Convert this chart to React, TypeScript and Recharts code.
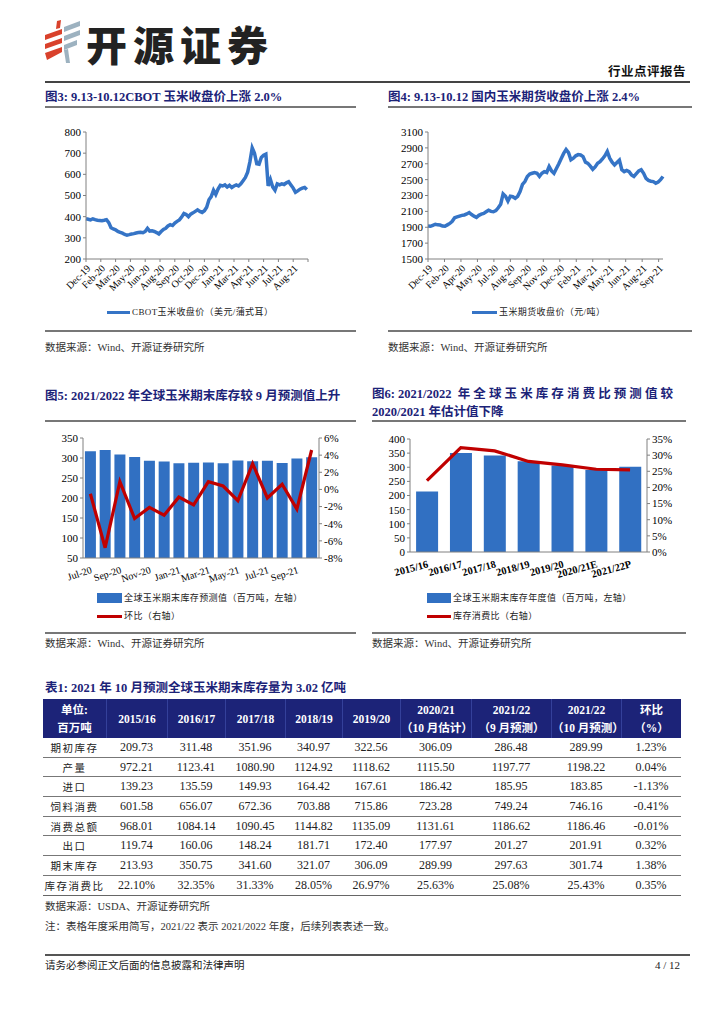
import React from 'react';
import { LineChart, Line, XAxis, YAxis, Bar, ComposedChart } from 'recharts';

const FONT = '"Liberation Serif", "Times New Roman", "Noto Sans CJK SC", serif';
const NAVY = '#1c2378';
const BLUE = '#3574c6';
const BAR = '#3170c2';
const RED = '#c00000';

// ---- Figure 3: CBOT corn close (weekly readings) ----
const cbotValues = [
  390, 388, 385, 390, 386, 383, 382, 381, 383, 386, 372, 348, 342, 338, 330, 326, 322, 316, 313, 315,
  318, 320, 323, 325, 326, 324, 330, 345, 332, 333, 330, 325, 318, 330, 340, 345, 356, 362, 358, 370,
  378, 385, 398, 415, 410, 400, 412, 418, 425, 432, 425, 420, 428, 445, 480, 495, 525, 505, 530, 548,
  545, 550, 540, 548, 538, 545, 550, 545, 555, 570, 585, 610, 660, 725, 700, 650, 648, 680, 690, 695,
  545, 575, 540, 525, 555, 550, 555, 552, 560, 565, 550, 535, 515, 522, 530, 535, 538, 528,
];
const cbotLabels = ['Dec-19', 'Feb-20', 'Mar-20', 'May-20', 'Jun-20', 'Aug-20', 'Sep-20', 'Oct-20', 'Dec-20', 'Jan-21', 'Mar-21', 'Apr-21', 'Jun-21', 'Jul-21', 'Aug-21', ''];
const cbotYTicks = [200, 300, 400, 500, 600, 700, 800];

// ---- Figure 4: DCE corn futures close (weekly readings) ----
const dceValues = [
  1915, 1912, 1925, 1938, 1930, 1928, 1915, 1912, 1930, 1948, 1975, 2020, 2030, 2040, 2050, 2055, 2068, 2085, 2060, 2040,
  2025, 2050, 2065, 2075, 2095, 2115, 2100, 2095, 2110, 2145, 2190, 2320, 2290, 2230, 2290, 2285, 2265, 2290, 2350, 2440,
  2475, 2540, 2570, 2580, 2590, 2580, 2540, 2580, 2600, 2590, 2665, 2610, 2580, 2640, 2700, 2766, 2830, 2878, 2840, 2750,
  2770, 2800, 2815, 2810, 2790, 2720, 2705, 2670, 2630, 2660, 2705, 2725, 2760, 2800, 2855, 2770, 2720, 2685, 2715, 2745,
  2625, 2600, 2615, 2600, 2560, 2540, 2575, 2610, 2625, 2580, 2515, 2490, 2480, 2475, 2455, 2470, 2500, 2540,
];
const dceLabels = ['Dec-19', 'Feb-20', 'Apr-20', 'May-20', 'Jul-20', 'Aug-20', 'Sep-20', 'Nov-20', 'Dec-20', 'Feb-21', 'Mar-21', 'May-21', 'Jun-21', 'Aug-21', 'Sep-21'];
const dceYTicks = [1500, 1700, 1900, 2100, 2300, 2500, 2700, 2900, 3100];

// ---- Figure 5: monthly forecast of global ending stocks ----
const forecastMonths = ['Jul-20', 'Aug-20', 'Sep-20', 'Oct-20', 'Nov-20', 'Dec-20', 'Jan-21', 'Feb-21', 'Mar-21', 'Apr-21', 'May-21', 'Jun-21', 'Jul-21', 'Aug-21', 'Sep-21', 'Oct-21'];
const forecastStocks = [317, 320, 309, 302.5, 293, 291, 287, 288, 289, 287, 294, 292, 293, 287.5, 299, 302];
const forecastMoM = [-0.5, -6.8, 0.9, -3.4, -2.1, -3.0, -0.9, -1.8, 0.9, 0.4, -1.3, 3.0, -1.0, 0.6, -2.3, 4.6];

// ---- Figure 6: yearly ending stocks and stock-to-use ----
const seasons = ['2015/16', '2016/17', '2017/18', '2018/19', '2019/20', '2020/21E', '2021/22P'];
const seasonStocks = [213.93, 350.75, 341.6, 321.07, 306.09, 289.99, 301.74];
const seasonRatio = [22.1, 32.35, 31.33, 28.05, 26.97, 25.63, 25.43];

// ---- Table 1 ----
const tableHeaders = [
  ['2015/16'], ['2016/17'], ['2017/18'], ['2018/19'], ['2019/20'],
  ['2020/21', '（10 月估计）'], ['2021/22', '（9 月预测）'], ['2021/22', '（10 月预测）'], ['环比', '（%）'],
];
const rowNames = ['期初库存', '产量', '进口', '饲料消费', '消费总额', '出口', '期末库存', '库存消费比'];
const beginStock = ['209.73', '311.48', '351.96', '340.97', '322.56', '306.09', '286.48', '289.99', '1.23%'];
const production = ['972.21', '1123.41', '1080.90', '1124.92', '1118.62', '1115.50', '1197.77', '1198.22', '0.04%'];
const importsRow = ['139.23', '135.59', '149.93', '164.42', '167.61', '186.42', '185.95', '183.85', '-1.13%'];
const feedUse = ['601.58', '656.07', '672.36', '703.88', '715.86', '723.28', '749.24', '746.16', '-0.41%'];
const totalUse = ['968.01', '1084.14', '1090.45', '1144.82', '1135.09', '1131.61', '1186.62', '1186.46', '-0.01%'];
const exportsRow = ['119.74', '160.06', '148.24', '181.71', '172.40', '177.97', '201.27', '201.91', '0.32%'];
const endStock = ['213.93', '350.75', '341.60', '321.07', '306.09', '289.99', '297.63', '301.74', '1.38%'];
const stockRatio = ['22.10%', '32.35%', '31.33%', '28.05%', '26.97%', '25.63%', '25.08%', '25.43%', '0.35%'];
const tableRows = [beginStock, production, importsRow, feedUse, totalUse, exportsRow, endStock, stockRatio];
const colWidths = [63, 61, 58, 60, 57, 58, 71, 80, 70, 60];

function Txt({ x, y, size = 11, bold = false, color = '#222', ls = 0, children }: any) {
  return (
    <div style={{ position: 'absolute', left: x, top: y - size * 0.7, fontSize: size, lineHeight: `${size * 1.4}px`, fontWeight: bold ? 700 : 400, color, letterSpacing: ls, whiteSpace: 'nowrap', fontFamily: FONT }}>
      {children}
    </div>
  );
}
function HLine({ x1, x2, y, h = 1.5, color = '#777' }: any) {
  return <div style={{ position: 'absolute', left: x1, top: y - h / 2, width: x2 - x1, height: h, background: color }} />;
}
function LegendLine({ x, y, color, text, w = 24 }: any) {
  return (
    <>
      <div style={{ position: 'absolute', left: x, top: y - 1.5, width: w, height: 3, background: color }} />
      <Txt x={x + w + 2} y={y} size={9} color="#222" ls={0.4}>{text}</Txt>
    </>
  );
}
function LegendBox({ x, y, color, text, w = 25 }: any) {
  return (
    <>
      <div style={{ position: 'absolute', left: x, top: y - 5, width: w, height: 10, background: color }} />
      <Txt x={x + w + 2} y={y} size={9} color="#222" ls={0.4}>{text}</Txt>
    </>
  );
}

const axisTick = { fontSize: 11, fill: '#000', fontFamily: FONT };
const xTick = { fontSize: 10, fill: '#000', fontFamily: FONT };

function CbotChart() {
  const data = cbotValues.map((v, i) => ({ i, v }));
  const step = 6.5;
  const ticks = cbotLabels.map((_, k) => k * step);
  return (
    <LineChart width={290} height={180} data={data} margin={{ top: 12, right: 22, bottom: 0, left: 6 }}>
      <XAxis dataKey="i" type="number" domain={[0, 97.5]} ticks={ticks} interval={0}
        tickFormatter={(_v: any, idx: number) => cbotLabels[idx] ?? ''}
        angle={-45} textAnchor="end" height={41} tick={xTick} tickSize={3} stroke="#808080" />
      <YAxis domain={[200, 800]} ticks={cbotYTicks} interval={0} width={40} tick={axisTick} tickSize={3} stroke="#808080" />
      <Line dataKey="v" stroke={BLUE} strokeWidth={3.5} dot={false} isAnimationActive={false} />
    </LineChart>
  );
}

function DceChart() {
  const data = dceValues.map((v, i) => ({ i, v }));
  const step = 6.8;
  const ticks = dceLabels.map((_, k) => k * step);
  return (
    <LineChart width={290} height={180} data={data} margin={{ top: 12, right: 12, bottom: 0, left: 3 }}>
      <XAxis dataKey="i" type="number" domain={[0, 97]} ticks={ticks} interval={0}
        tickFormatter={(_v: any, idx: number) => dceLabels[idx] ?? ''}
        angle={-45} textAnchor="end" height={41} tick={xTick} tickSize={3} stroke="#808080" />
      <YAxis domain={[1500, 3100]} ticks={dceYTicks} interval={0} width={40} tick={axisTick} tickSize={3} stroke="#808080" />
      <Line dataKey="v" stroke={BLUE} strokeWidth={3.5} dot={false} isAnimationActive={false} />
    </LineChart>
  );
}

function ForecastChart() {
  const data = forecastMonths.map((m, i) => ({ m, s: forecastStocks[i], c: forecastMoM[i] }));
  return (
    <ComposedChart width={310} height={160} data={data} margin={{ top: 13, right: 3, bottom: 0, left: 3 }} barCategoryGap="13%">
      <XAxis dataKey="m" interval={1} tickLine={false} angle={-18} textAnchor="end" height={27} tick={xTick} stroke="#808080" />
      <YAxis yAxisId="l" domain={[50, 350]} ticks={[50, 100, 150, 200, 250, 300, 350]} interval={0} width={40} tick={axisTick} tickSize={3} stroke="#808080" />
      <YAxis yAxisId="r" orientation="right" domain={[-8, 6]} ticks={[-8, -6, -4, -2, 0, 2, 4, 6]} interval={0} tickFormatter={(v: number) => `${v}%`} width={28} tick={axisTick} tickSize={3} stroke="#808080" />
      <Bar yAxisId="l" dataKey="s" fill={BAR} isAnimationActive={false} />
      <Line yAxisId="r" dataKey="c" stroke={RED} strokeWidth={3.2} dot={false} isAnimationActive={false} />
    </ComposedChart>
  );
}

function SeasonChart() {
  const data = seasons.map((s, i) => ({ s, v: seasonStocks[i], r: seasonRatio[i] }));
  return (
    <ComposedChart width={300} height={160} data={data} margin={{ top: 14, right: 3, bottom: 0, left: 0 }} barCategoryGap="18%">
      <XAxis dataKey="s" interval={0} tickLine={false} angle={-15} textAnchor="end" height={33} tick={{ ...xTick, fontSize: 10.5, fontWeight: 700 }} stroke="#808080" />
      <YAxis yAxisId="l" domain={[0, 400]} ticks={[0, 50, 100, 150, 200, 250, 300, 350, 400]} interval={0} width={30} tick={axisTick} tickSize={3} stroke="#808080" />
      <YAxis yAxisId="r" orientation="right" domain={[0, 35]} ticks={[0, 5, 10, 15, 20, 25, 30, 35]} interval={0} tickFormatter={(v: number) => `${v}%`} width={30} tick={axisTick} tickSize={3} stroke="#808080" />
      <Bar yAxisId="l" dataKey="v" fill={BAR} isAnimationActive={false} />
      <Line yAxisId="r" dataKey="r" stroke={RED} strokeWidth={3.2} dot={false} isAnimationActive={false} />
    </ComposedChart>
  );
}

function Logo() {
  return (
    <svg width={40} height={44} style={{ position: 'absolute', left: 44, top: 20 }}>
      <polygon points="13,1 17,0 16,8 12,9" fill="#d9412b" />
      <polygon points="1,15 18,9 18,14 1,20" fill="#d9412b" />
      <polygon points="1,24 18,18 18,23 1,29" fill="#d9412b" />
      <polygon points="1,33 18,27 18,32 3,40" fill="#d9412b" />
      <polygon points="20,7 36,1 36,6 20,12" fill="#9db2c0" />
      <polygon points="20,16 36,10 36,15 20,21" fill="#9db2c0" />
      <polygon points="20,25 33,20 33,25 20,30" fill="#9db2c0" />
      <polygon points="20,30 24,29 26,43 22,43" fill="#9db2c0" />
    </svg>
  );
}

function Table() {
  const cell = (w: number, extra: any = {}) => ({ width: w, flex: 'none', display: 'flex', flexDirection: 'column' as const, alignItems: 'center', justifyContent: 'center', ...extra });
  return (
    <div style={{ position: 'absolute', left: 43, top: 699, width: 638, fontFamily: FONT }}>
      <div style={{ display: 'flex', height: 39, background: NAVY, color: '#fff', fontWeight: 700, fontSize: 11.5, lineHeight: '18px' }}>
        <div style={cell(colWidths[0])}><div>单位:</div><div>百万吨</div></div>
        {tableHeaders.map((h, i) => (
          <div key={i} style={cell(colWidths[i + 1], { borderLeft: '1px solid #34409a', boxSizing: 'border-box' })}>
            {h.map((t, j) => <div key={j}>{t}</div>)}
          </div>
        ))}
      </div>
      {tableRows.map((row, r) => (
        <div key={r} style={{ display: 'flex', height: 19.7, boxSizing: 'border-box', borderBottom: r === tableRows.length - 1 ? '1.5px solid #666' : '1px solid #777', fontSize: 12, color: '#222' }}>
          <div style={cell(colWidths[0], { fontSize: 10.5, letterSpacing: 1.5 })}>{rowNames[r]}</div>
          {row.map((v, i) => <div key={i} style={cell(colWidths[i + 1])}>{v}</div>)}
        </div>
      ))}
    </div>
  );
}

export default function App() {
  return (
    <div style={{ position: 'absolute', left: 0, top: 0, width: 724, height: 1024, background: '#fff', fontFamily: FONT, overflow: 'hidden' }}>
      <Logo />
      <div style={{ position: 'absolute', left: 86, top: 18, fontSize: 41, lineHeight: '50px', fontWeight: 900, color: '#222', letterSpacing: 6, fontFamily: '"Noto Sans CJK SC", sans-serif', whiteSpace: 'nowrap' }}>开源证券</div>
      <Txt x={608} y={73} size={12.5} bold color="#111" ls={0.5}>行业点评报告</Txt>
      <HLine x1={45} x2={690} y={82} h={2} color="#444" />

      <Txt x={45} y={98} size={12.5} bold color={NAVY}>图3:  9.13-10.12CBOT 玉米收盘价上涨 2.0%</Txt>
      <Txt x={388} y={98} size={12.5} bold color={NAVY}>图4:  9.13-10.12 国内玉米期货收盘价上涨 2.4%</Txt>
      <HLine x1={45} x2={356} y={107} />
      <HLine x1={388} x2={692} y={107} />

      <div style={{ position: 'absolute', left: 40, top: 120 }}><CbotChart /></div>
      <div style={{ position: 'absolute', left: 385, top: 120 }}><DceChart /></div>
      <LegendLine x={107} y={312} color={BLUE} text="CBOT玉米收盘价（美元/蒲式耳）" w={23} />
      <LegendLine x={472} y={312} color={BLUE} text="玉米期货收盘价（元/吨）" w={25} />

      <HLine x1={45} x2={356} y={331} />
      <HLine x1={388} x2={692} y={331} />
      <Txt x={45} y={348} size={10.5} color="#333">数据来源：Wind、开源证券研究所</Txt>
      <Txt x={388} y={348} size={10.5} color="#333">数据来源：Wind、开源证券研究所</Txt>

      <Txt x={45} y={397} size={12.5} bold color={NAVY}>图5:  2021/2022 年全球玉米期末库存较 9 月预测值上升</Txt>
      <Txt x={372} y={395} size={12.5} bold color={NAVY}>图6:  2021/2022&nbsp;&nbsp;<span style={{ letterSpacing: 3.1 }}>年全球玉米库存消费比预测值较</span></Txt>
      <Txt x={372} y={413} size={12.5} bold color={NAVY}>2020/2021 年估计值下降</Txt>
      <HLine x1={45} x2={356} y={421} />
      <HLine x1={372} x2={686} y={421} />

      <div style={{ position: 'absolute', left: 40, top: 425 }}><ForecastChart /></div>
      <div style={{ position: 'absolute', left: 380, top: 425 }}><SeasonChart /></div>
      <LegendBox x={97} y={598} color={BAR} text="全球玉米期末库存预测值（百万吨，左轴）" />
      <LegendLine x={97} y={616} color={RED} text="环比（右轴）" w={25} />
      <LegendBox x={427} y={598} color={BAR} text="全球玉米期末库存年度值（百万吨，左轴）" w={24} />
      <LegendLine x={427} y={616} color={RED} text="库存消费比（右轴）" w={24} />

      <HLine x1={45} x2={356} y={633} />
      <HLine x1={372} x2={686} y={633} />
      <Txt x={45} y={644} size={10.5} color="#333">数据来源：Wind、开源证券研究所</Txt>
      <Txt x={372} y={644} size={10.5} color="#333">数据来源：Wind、开源证券研究所</Txt>

      <Txt x={45} y={689} size={12.5} bold color={NAVY}>表1:  2021 年 10 月预测全球玉米期末库存量为 3.02 亿吨</Txt>
      <Table />
      <Txt x={45} y={907} size={10.5} color="#333">数据来源：USDA、开源证券研究所</Txt>
      <Txt x={45} y={927} size={10.5} color="#333">注：表格年度采用简写，2021/22 表示 2021/2022 年度，后续列表表述一致。</Txt>

      <HLine x1={45} x2={690} y={955} h={2} color="#555" />
      <Txt x={45} y={966} size={10.5} color="#222">请务必参阅正文后面的信息披露和法律声明</Txt>
      <Txt x={655} y={966} size={11} color="#222">4 / 12</Txt>
    </div>
  );
}
